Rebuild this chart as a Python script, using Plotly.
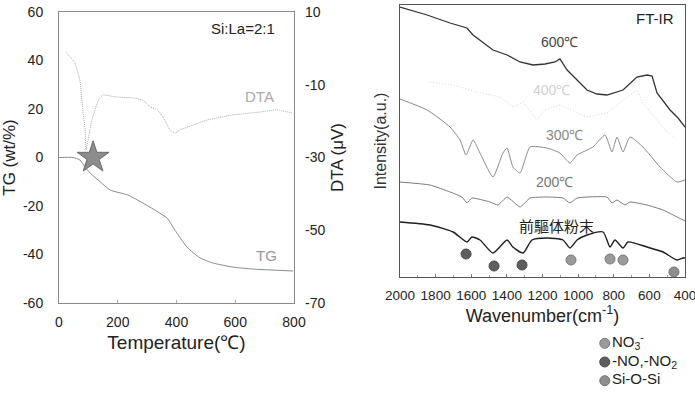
import plotly.graph_objects as go

# ---------------- TG / DTA data ----------------
tg_T = [0, 48, 71, 89, 106, 140, 174, 235, 286, 368, 395, 436, 480, 524, 592, 660, 797]
tg_val = [0, 0, -1, -4, -6.4, -10, -13.4, -15.5, -18.8, -25, -30, -37, -41.4, -43.5, -45.2, -46, -46.8]

dta_T = [24, 54, 71, 82, 89, 92, 99, 112, 129, 140, 150, 197, 252, 286, 310, 334, 354, 378, 395, 412, 456, 504, 592, 684, 742, 797]
dta_val = [-1.0, -4.0, -8.7, -17.8, -22.4, -27.9, -25.2, -19.7, -15.3, -13.4, -12.8, -13.4, -13.6, -14.2, -16.1,
           -16.9, -18.9, -22.4, -23.3, -22.4, -21.1, -19.7, -18.3, -17.5, -16.9, -17.8]

star_T = [116]
star_TG = [0]

tg_ticks = [60, 40, 20, 0, -20, -40, -60]
tg_labels = ["60", "40", "20", "0", "-20", "-40", "-60"]
dta_ticks = [10, -10, -30, -50, -70]
dta_labels = ["10", "-10", "-30", "-50", "-70"]
temp_ticks = [0, 200, 400, 600, 800]

# ---------------- FT-IR data (arbitrary intensity units) ----------------
wn_600 = [2000, 1848, 1719, 1624, 1590, 1551, 1478, 1399, 1326, 1253, 1186, 1130, 1102, 1062, 1006, 950, 894, 838,
          748, 670, 613, 585, 557, 484, 439, 400]
i_600 = [270, 262, 254, 249, 242, 237, 227, 222, 215, 212, 213, 215, 218, 207, 197, 187, 183, 182,
         187, 200, 202, 201, 184, 167, 159, 150]

wn_400 = [1832, 1702, 1568, 1439, 1366, 1309, 1231, 1186, 1102, 950, 838, 765, 670, 636, 557, 501, 456]
i_400 = [195, 192, 185, 180, 170, 175, 157, 167, 172, 160, 164, 174, 187, 174, 157, 145, 139]

wn_300 = [2000, 1848, 1719, 1663, 1629, 1590, 1551, 1478, 1422, 1399, 1366, 1326, 1270, 1175, 1102, 1046, 1006,
          917, 849, 810, 782, 748, 709, 636, 540, 445, 400]
i_300 = [178, 167, 150, 137, 122, 137, 124, 100, 124, 129, 110, 104, 130, 129, 124, 114, 122,
         130, 142, 125, 140, 125, 140, 130, 110, 95, 97]

wn_200 = [2000, 1832, 1719, 1652, 1624, 1596, 1495, 1450, 1399, 1326, 1270, 1175, 1085, 1046, 1006, 838, 810, 782,
          737, 709, 613, 523, 411, 400]
i_200 = [95, 92, 85, 80, 74, 79, 75, 72, 80, 70, 79, 80, 79, 74, 79, 80, 74, 77,
         72, 75, 72, 67, 57, 56]

wn_pre = [2000, 1832, 1702, 1624, 1596, 1551, 1478, 1399, 1366, 1309, 1259, 1175, 1085, 1046, 1006, 950, 860, 821,
          793, 748, 720, 613, 523, 445, 411, 400]
i_pre = [55, 52, 45, 35, 40, 37, 24, 37, 30, 24, 37, 39, 37, 29, 37, 42, 45, 30,
         37, 29, 35, 30, 25, 17, 19, 19]

# band markers
no3_wn = [1040, 821, 748]
no3_y = [17, 18, 17]
no_wn = [1629, 1472, 1315]
no_y = [23, 11, 12]
sio_wn = [462]
sio_y = [5]

wn_ticks = [2000, 1800, 1600, 1400, 1200, 1000, 800, 600, 400]

# legend categories
legend_names = ["NO<sub>3</sub><sup>-</sup>", "-NO,-NO<sub>2</sub>", "Si-O-Si"]
legend_colors = ["#9a9a9a", "#5e5e5e", "#8e8e8e"]
legend_edges = ["#7a7a7a", "#4a4a4a", "#727272"]

FONT = "Liberation Sans, Arial, sans-serif"
CJK = "Noto Sans CJK JP, Noto Sans CJK SC, sans-serif"

fig = go.Figure()

# left panel
fig.add_trace(go.Scatter(x=tg_T, y=tg_val, mode="lines", line=dict(color="#8a8a8a", width=1, shape="spline", smoothing=0.5),
                         xaxis="x", yaxis="y", showlegend=False))
fig.add_trace(go.Scatter(x=dta_T, y=dta_val, mode="lines", line=dict(color="#a8a8a8", width=1, dash="1px,1px", shape="spline", smoothing=0.4),
                         xaxis="x", yaxis="y2", showlegend=False))
fig.add_trace(go.Scatter(x=star_T, y=star_TG, mode="markers",
                         marker=dict(symbol="star", size=24, color="#8c8c8c", line=dict(color="#6a6a6a", width=1)),
                         xaxis="x", yaxis="y", showlegend=False))

# right panel
fig.add_trace(go.Scatter(x=wn_600, y=i_600, mode="lines", line=dict(color="#333333", width=1.3),
                         xaxis="x3", yaxis="y3", showlegend=False))
fig.add_trace(go.Scatter(x=wn_400, y=i_400, mode="lines", line=dict(color="#d4d4d4", width=1, dash="1px,2px"),
                         xaxis="x3", yaxis="y3", showlegend=False))
fig.add_trace(go.Scatter(x=wn_300, y=i_300, mode="lines", line=dict(color="#8a8a8a", width=1, shape="spline", smoothing=0.5),
                         xaxis="x3", yaxis="y3", showlegend=False))
fig.add_trace(go.Scatter(x=wn_200, y=i_200, mode="lines", line=dict(color="#7a7a7a", width=1, shape="spline", smoothing=0.4),
                         xaxis="x3", yaxis="y3", showlegend=False))
fig.add_trace(go.Scatter(x=wn_pre, y=i_pre, mode="lines", line=dict(color="#1e1e1e", width=1.4, shape="spline", smoothing=0.6),
                         xaxis="x3", yaxis="y3", showlegend=False))

for wn, iv, k in [(no3_wn, no3_y, 0), (no_wn, no_y, 1), (sio_wn, sio_y, 2)]:
    fig.add_trace(go.Scatter(x=wn, y=iv, mode="markers", name=legend_names[k], showlegend=False,
                             marker=dict(size=10, color=legend_colors[k], line=dict(color=legend_edges[k], width=1)),
                             xaxis="x3", yaxis="y3"))

# manual legend on a hidden helper axis (rows 0,1,2 top to bottom)
for k in range(3):
    fig.add_trace(go.Scatter(x=[0], y=[k], mode="markers+text", text=[legend_names[k]], textposition="middle right",
                             textfont=dict(family=FONT, size=15, color="#222"),
                             marker=dict(size=10, color=legend_colors[k], line=dict(color=legend_edges[k], width=1)),
                             xaxis="x4", yaxis="y4", showlegend=False, cliponaxis=False))

axis_common = dict(showline=True, linecolor="#8a8a8a", linewidth=1, mirror=True, showgrid=False, zeroline=False,
                   tickfont=dict(family=FONT, size=14, color="#222"))
hidden = dict(visible=False, showgrid=False, zeroline=False)

fig.update_layout(
    width=695, height=396,
    margin=dict(l=0, r=0, t=0, b=0, autoexpand=False),
    paper_bgcolor="white", plot_bgcolor="rgba(0,0,0,0)",
    font=dict(family=FONT, color="#222"),
    showlegend=False,
    xaxis=dict(domain=[59/695, 294/695], range=[0, 800], tickvals=temp_ticks, ticks="inside", ticklen=3,
               tickcolor="#aaa", ticklabelstandoff=6, anchor="y",
               title=dict(text="Temperature(℃)", font=dict(size=19, family=FONT, color="#222"), standoff=6),
               **axis_common),
    yaxis=dict(domain=[1-303/396, 1-12/396], range=[-60, 60], tickvals=tg_ticks, ticktext=tg_labels, ticks="",
               ticklabelstandoff=12, anchor="x",
               title=dict(text="TG (wt/%)", font=dict(size=17, family=FONT, color="#222"), standoff=6),
               **axis_common),
    yaxis2=dict(overlaying="y", side="right", anchor="x", range=[-70, 10], tickvals=dta_ticks, ticktext=dta_labels,
                ticks="", ticklabelstandoff=10, showline=False, showgrid=False, zeroline=False,
                tickfont=dict(family=FONT, size=14, color="#222"),
                title=dict(text="DTA (μV)", font=dict(size=17, family=FONT, color="#222"), standoff=6)),
    xaxis3=dict(domain=[400/695, 685/695], range=[2000, 400], tickvals=wn_ticks, ticks="inside", ticklen=3,
                tickcolor="#777", ticklabelstandoff=6, anchor="y3", ticklabeloverflow="allow",
                minor=dict(dtick=100, ticks="inside", ticklen=2, tickcolor="#999"),
                title=dict(text="Wavenumber(cm<sup>-1</sup>)", font=dict(size=18, family=FONT, color="#222"), standoff=4),
                showline=True, linecolor="#555", linewidth=1, mirror=True, showgrid=False, zeroline=False,
                tickfont=dict(family=FONT, size=13.5, color="#222")),
    yaxis3=dict(domain=[1-277/396, 1-5/396], range=[0, 272], showticklabels=False, ticks="", anchor="x3",
                title=dict(text="Intensity(a.u.)", font=dict(size=16, family=FONT, color="#333"), standoff=8),
                showline=True, linecolor="#555", linewidth=1, mirror=True, showgrid=False, zeroline=False),
    # helper axes for the legend block (bottom right)
    xaxis4=dict(domain=[600/695, 695/695], range=[-0.5, 9.5], anchor="y4", **hidden),
    yaxis4=dict(domain=[1-390/396, 1-334/396], range=[2.5, -0.5], anchor="x4", **hidden),
)

ann = [
    dict(x=626, y=53.4, xref="x", yref="y", text="Si:La=2:1", font=dict(size=15, color="#222")),
    dict(x=684, y=25, xref="x", yref="y", text="DTA", font=dict(size=15, color="#aaaaaa")),
    dict(x=708, y=-40.6, xref="x", yref="y", text="TG", font=dict(size=15, color="#999999")),
    dict(x=568, y=259, xref="x3", yref="y3", text="FT-IR", font=dict(size=15, color="#222")),
    dict(x=1102, y=235, xref="x3", yref="y3", text="600℃", font=dict(size=14, color="#444")),
    dict(x=1147, y=187, xref="x3", yref="y3", text="400℃", font=dict(size=14, color="#d0d0d0")),
    dict(x=1079, y=142, xref="x3", yref="y3", text="300℃", font=dict(size=14, color="#888")),
    dict(x=1135, y=95, xref="x3", yref="y3", text="200℃", font=dict(size=14, color="#777")),
    dict(x=1119, y=52, xref="x3", yref="y3", text="前驅体粉末", font=dict(size=15, color="#222", family=CJK)),
]
for a in ann:
    a.setdefault("showarrow", False)
    a["font"].setdefault("family", FONT)
fig.update_layout(annotations=ann)

fig.write_html("out.html", config={"displayModeBar": False},
               post_script="document.body.style.margin='0';document.body.style.overflow='hidden';")
